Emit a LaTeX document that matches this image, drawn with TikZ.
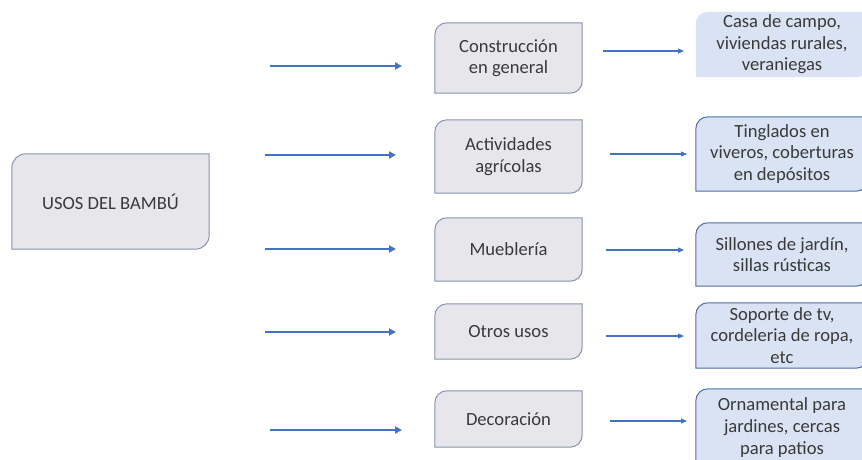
\documentclass[tikz,border=0pt]{standalone}
\usepackage{fontspec}
\setmainfont{Carlito}
\usetikzlibrary{arrows.meta,backgrounds}
\definecolor{gfill}{HTML}{E7E6EB}
\definecolor{gline}{HTML}{8794B0}
\definecolor{bfill}{HTML}{DAE3F3}
\definecolor{bline}{HTML}{4F6EA8}
\definecolor{arr}{HTML}{4472C4}
\definecolor{txt}{HTML}{3A3A3A}
\tikzset{
  lbl/.style={inner sep=0pt, align=center, text=txt, font=\fontsize{18.6pt}{21.6pt}\selectfont},
  gshape/.style={fill=gfill, draw=gline, line width=1pt},
  bshape/.style={fill=bfill, draw=bline, line width=1pt},
  nshape/.style={fill=bfill, draw=none},
  bigarrow/.style={draw=arr, line width=2.2pt, -{Triangle[length=7pt,width=7pt]}},
  smallarrow/.style={draw=arr, line width=1.1pt, -{Triangle[length=6pt,width=5pt]}},
}
% shape with rounded top-left and bottom-right corners, spanning a node
\newcommand\cutbox[3]{%
  \path[#2] (#1.south west) -- ([yshift=-#3]#1.north west)
    arc[start angle=180,end angle=90,radius=#3] -- (#1.north east)
    -- ([yshift=#3]#1.south east)
    arc[start angle=0,end angle=-90,radius=#3] -- cycle;}
\begin{document}
\begin{tikzpicture}[x=1pt,y=-1pt]
\useasboundingbox (0,0) rectangle (862,460);
\begin{scope}
\clip (0,0) rectangle (862,460);
% main node
\node[lbl, minimum width=197pt, minimum height=95pt] (main) at (110.5,201.5) {USOS DEL BAMBÚ};
% middle column
\node[lbl, minimum width=147pt, minimum height=70pt] (m1) at (508.5,58) {Construcción\\en general};
\node[lbl, minimum width=147pt, minimum height=73pt] (m2) at (508.5,156.5) {Actividades\\agrícolas};
\node[lbl, minimum width=147pt, minimum height=63pt] (m3) at (508.5,249.5) {Mueblería};
\node[lbl, minimum width=147pt, minimum height=55pt] (m4) at (508.5,331.5) {Otros usos};
\node[lbl, minimum width=147pt, minimum height=56pt] (m5) at (508.5,419) {Decoración};
% right column
\node[lbl, minimum width=172pt, minimum height=65pt] (r1) at (782,44.5) {Casa de campo,\\viviendas rurales,\\veraniegas};
\node[lbl, minimum width=172pt, minimum height=74pt] (r2) at (782,154) {Tinglados en\\viveros, coberturas\\en depósitos};
\node[lbl, minimum width=172pt, minimum height=63pt] (r3) at (782,254.5) {Sillones de jardín,\\sillas rústicas};
\node[lbl, minimum width=172pt, minimum height=65pt] (r4) at (782,335.5) {Soporte de tv,\\cordeleria de ropa,\\etc};
\node[lbl, minimum width=172pt, minimum height=77pt] (r5) at (782,427.5) {Ornamental para\\jardines, cercas\\para patios};
\begin{scope}[on background layer]
\fill[white] (0,0) rectangle (862,460);
\cutbox{main}{gshape}{14pt}
\cutbox{m1}{gshape}{12pt}
\cutbox{m2}{gshape}{12pt}
\cutbox{m3}{gshape}{12pt}
\cutbox{m4}{gshape}{12pt}
\cutbox{m5}{gshape}{12pt}
\cutbox{r1}{nshape}{12pt}
\cutbox{r2}{bshape}{12pt}
\cutbox{r3}{bshape}{12pt}
\cutbox{r4}{bshape}{12pt}
\cutbox{r5}{bshape}{12pt}
\end{scope}
\end{scope}
% arrow endpoints
\coordinate (a1s) at (270,66);  \coordinate (a1e) at (402,66);
\coordinate (a2s) at (265,155); \coordinate (a2e) at (396,155);
\coordinate (a3s) at (265,249); \coordinate (a3e) at (396,249);
\coordinate (a4s) at (265,332); \coordinate (a4e) at (396,332);
\coordinate (a5s) at (270,430); \coordinate (a5e) at (402,430);
\coordinate (b1s) at (603,51);  \coordinate (b1e) at (684,51);
\coordinate (b2s) at (610,154); \coordinate (b2e) at (687,154);
\coordinate (b3s) at (606,250); \coordinate (b3e) at (684,250);
\coordinate (b4s) at (606,336); \coordinate (b4e) at (684,336);
\coordinate (b5s) at (610,421); \coordinate (b5e) at (687,421);
\foreach \i in {1,...,5}{
  \draw[bigarrow] (a\i s) -- (a\i e);
  \draw[smallarrow] (b\i s) -- (b\i e);
}
\end{tikzpicture}
\end{document}
